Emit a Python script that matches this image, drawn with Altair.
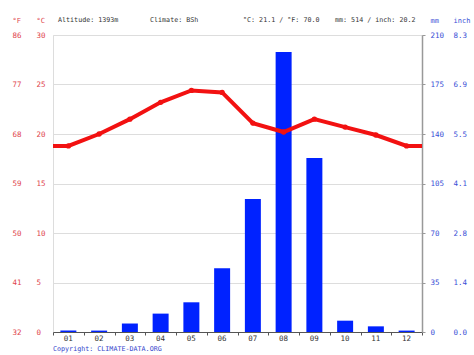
import altair as alt
import pandas as pd

months = ["01", "02", "03", "04", "05", "06", "07", "08", "09", "10", "11", "12"]
temp_c = [18.8, 20.0, 21.5, 23.2, 24.4, 24.2, 21.1, 20.2, 21.5, 20.7, 19.9, 18.8]
precip_mm = [1, 1, 6, 13, 21, 45, 94, 198, 123, 8, 4, 1]

header_altitude = "Altitude: 1393m"
header_climate = "Climate: BSh"
header_temp = "°C: 21.1 / °F: 70.0"
header_precip = "mm: 514 / inch: 20.2"
copyright_text = "Copyright: CLIMATE-DATA.ORG"

FONT = "DejaVu Sans Mono"
RED_TXT = "#e0444c"
BLUE_TXT = "#3a4fd6"
BAR = "#0022ff"
LINE = "#f21111"
W, H = 369, 297

bars_df = pd.DataFrame({"month": months, "mm": precip_mm})
# line positions: month centres, plus flat extension to the plot edges
line_df = pd.DataFrame({
    "pos": [0.0] + [i + 0.5 for i in range(12)] + [12.0],
    "temp": [temp_c[0]] + temp_c + [temp_c[-1]],
})
pts_df = pd.DataFrame({"pos": [i + 0.5 for i in range(12)], "temp": temp_c})

xband = alt.X("month:N", sort=months,
              scale=alt.Scale(paddingInner=0.48, paddingOuter=0.24),
              axis=alt.Axis(orient="bottom", title=None, domain=False, ticks=False,
                            tickSize=0, labelPadding=2, labelAngle=0,
                            labelFont=FONT, labelFontSize=7.5, labelColor="#333"))

bars = alt.Chart(bars_df).mark_bar(color=BAR).encode(
    x=xband,
    y=alt.Y("mm:Q", scale=alt.Scale(domain=[0, 210], nice=False),
            axis=alt.Axis(orient="right", values=[0, 35, 70, 105, 140, 175, 210],
                          domain=True, domainColor="#999", domainWidth=1.5,
                          ticks=True, tickSize=3, tickColor="#999",
                          labelPadding=5, labelAlign="left", labelBaseline="middle",
                          labelFont=FONT, labelFontSize=7.5, labelColor=BLUE_TXT,
                          grid=False, title="mm", titleAngle=0, titleX=8, titleY=-15,
                          titleAlign="left", titleBaseline="middle", titleFont=FONT,
                          titleFontSize=7, titleFontWeight="normal", titleColor=BLUE_TXT)),
)

inch_axis = alt.Chart(bars_df).mark_bar(opacity=0).encode(
    x=alt.X("month:N", sort=months, axis=None),
    y=alt.Y("mm:Q", scale=alt.Scale(domain=[0, 210], nice=False),
            axis=alt.Axis(orient="right", values=[0, 35, 70, 105, 140, 175, 210],
                          labelExpr="format(datum.value / 25.4, '.1f')",
                          domain=False, ticks=False, labelPadding=31,
                          labelAlign="left", labelBaseline="middle",
                          labelFont=FONT, labelFontSize=7.5, labelColor=BLUE_TXT,
                          grid=False, title="inch", titleAngle=0, titleX=31, titleY=-15,
                          titleAlign="left", titleBaseline="middle", titleFont=FONT,
                          titleFontSize=7, titleFontWeight="normal", titleColor=BLUE_TXT)),
)

xq = alt.X("pos:Q", scale=alt.Scale(domain=[0, 12], nice=False, zero=False),
           axis=alt.Axis(orient="bottom", values=list(range(13)), labels=False,
                         domain=True, domainColor="#555", ticks=True, tickSize=3,
                         tickColor="#555", grid=False, title=None))

line = alt.Chart(line_df).mark_line(color=LINE, strokeWidth=4).encode(
    x=xq,
    y=alt.Y("temp:Q", scale=alt.Scale(domain=[0, 30], nice=False),
            axis=alt.Axis(orient="left", values=[0, 5, 10, 15, 20, 25, 30],
                          domain=False, ticks=False, labelPadding=17,
                          labelAlign="left", labelBaseline="middle",
                          labelFont=FONT, labelFontSize=7.5, labelColor=RED_TXT,
                          grid=True, gridColor="#dddddd", gridWidth=1,
                          title="°C", titleAngle=0, titleX=-17, titleY=-15,
                          titleAlign="left", titleBaseline="middle", titleFont=FONT,
                          titleFontSize=7, titleFontWeight="normal", titleColor=RED_TXT)),
)

points = alt.Chart(pts_df).mark_point(filled=True, color=LINE, size=28, opacity=1).encode(
    x=alt.X("pos:Q", scale=alt.Scale(domain=[0, 12], nice=False, zero=False), axis=None),
    y=alt.Y("temp:Q", scale=alt.Scale(domain=[0, 30], nice=False), axis=None),
)

f_axis = alt.Chart(pts_df).mark_point(opacity=0).encode(
    x=alt.X("pos:Q", scale=alt.Scale(domain=[0, 12], nice=False, zero=False), axis=None),
    y=alt.Y("temp:Q", scale=alt.Scale(domain=[0, 30], nice=False),
            axis=alt.Axis(orient="left", values=[0, 5, 10, 15, 20, 25, 30],
                          labelExpr="format(datum.value * 9 / 5 + 32, 'd')",
                          domain=False, ticks=False, labelPadding=41,
                          labelAlign="left", labelBaseline="middle",
                          labelFont=FONT, labelFontSize=7.5, labelColor=RED_TXT,
                          grid=False, title="°F", titleAngle=0, titleX=-41, titleY=-15,
                          titleAlign="left", titleBaseline="middle", titleFont=FONT,
                          titleFontSize=7, titleFontWeight="normal", titleColor=RED_TXT)),
)

one = pd.DataFrame({"a": [0]})


def label(txt, x, y, color="#333"):
    return alt.Chart(one).mark_text(font=FONT, fontSize=6.7, color=color,
                                    align="left", baseline="middle").encode(
        x=alt.value(x), y=alt.value(y), text=alt.value(txt))


texts = [
    label(header_altitude, 5, -15),
    label(header_climate, 97, -15),
    label(header_temp, 190, -15),
    label(header_precip, 282, -15),
    label(copyright_text, 0, 314, "#3344cc"),
]

chart = alt.layer(f_axis, inch_axis, bars, line, points, *texts).resolve_scale(
    x="independent", y="independent"
).properties(
    width=W, height=H,
    padding={"left": 53, "top": 35, "right": 52, "bottom": 23},
    autosize=alt.AutoSizeParams(type="none"),
).configure_view(stroke=None).configure(background="white")

chart.save("out.html", embed_options={"renderer": "svg", "actions": False})
